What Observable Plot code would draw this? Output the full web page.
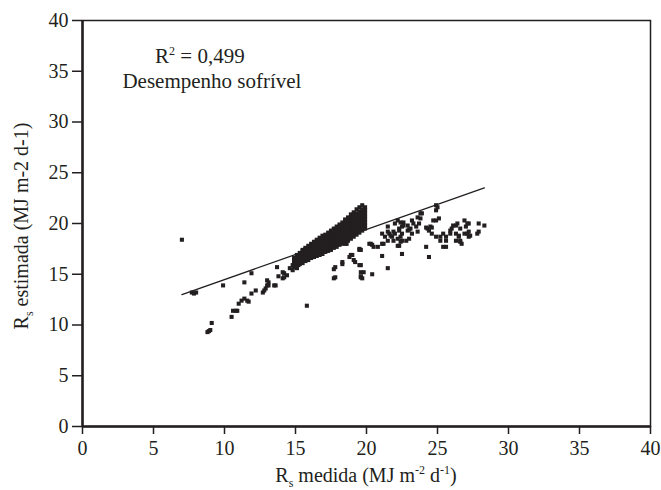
<!DOCTYPE html>
<html><head><meta charset="utf-8">
<script src="https://cdn.jsdelivr.net/npm/d3@7"></script>
<script src="https://cdn.jsdelivr.net/npm/@observablehq/plot@0.6"></script>
<style>body{margin:0;background:#fff} svg{display:block}</style>
</head><body><div id="chart"></div>
<script>
// Tick values
const xTicks = [0, 5, 10, 15, 20, 25, 30, 35, 40];
const yTicks = [0, 5, 10, 15, 20, 25, 30, 35, 40];

// Regression line endpoints
const lineX = [7.0, 28.3];
const lineY = [13.0, 23.5];

// Scattered points (Rs medida, Rs estimada)
const ptsX = [7.0, 7.7, 8.0, 7.85, 8.8, 9.0, 8.9, 9.1, 9.9, 10.5, 10.6, 10.8, 10.9, 11.4,
  11.0, 11.2, 11.6, 11.7, 11.4, 11.9, 11.9, 12.2, 12.7, 12.9, 13.0, 13.1, 12.8, 13.0, 13.1, 13.5, 13.6,
  13.7, 13.8, 14.1, 14.2, 14.1, 14.2, 14.4, 14.6, 14.8, 14.8, 14.9, 15.0, 15.1, 15.2, 15.0, 15.1, 15.2, 15.4,
  15.8, 17.7, 17.7, 17.8, 17.8,
  18.3, 18.3, 18.6, 18.5, 18.8, 18.9, 19.0, 19.1, 19.2, 19.5, 19.5, 19.6, 19.5, 19.6, 19.8, 19.6, 19.7, 19.6, 19.6,
  20.2, 20.3, 20.5, 20.4, 20.4, 20.8,
  21.1, 21.5, 21.1, 21.2, 21.5, 21.5, 21.6, 21.1, 21.3, 21.7, 21.8, 21.9, 21.5, 21.9,
  22.0, 22.2, 22.3, 22.4, 22.5, 22.3, 22.2, 22.5, 22.5, 22.6, 22.4, 22.6, 22.3, 22.0, 22.5, 22.2, 22.4, 22.8,
  22.9, 23.0, 23.2, 23.2, 22.9, 23.1, 23.3, 23.0,
  23.5, 23.7, 23.9, 23.8, 23.6, 23.8, 23.6,
  24.3, 24.5, 24.2, 24.4, 24.7, 24.2, 24.4, 24.6, 24.9, 25.1,
  25.0, 24.9, 24.9,
  24.6, 24.9, 25.2, 25.6, 25.6, 25.2, 25.4, 25.6, 25.4,
  25.9, 26.1, 26.3, 26.5, 26.3, 25.9, 26.0, 26.3,
  26.4, 26.6, 26.9, 27.0, 27.1, 27.2, 26.6, 26.7, 27.2, 26.9, 27.1, 27.2, 26.6, 27.3, 26.5,
  27.9, 28.3, 27.9, 27.8];
const ptsY = [18.4, 13.2, 13.2, 13.1, 9.3, 9.5, 9.4, 10.2, 13.9, 10.8, 11.4, 11.4, 11.4, 14.2,
  12.1, 12.4, 12.4, 12.3, 12.6, 13.1, 15.1, 13.4, 13.2, 13.6, 13.9, 14.2, 13.4, 14.4, 13.9, 13.9, 13.9,
  15.7, 14.8, 14.6, 15.1, 15.2, 14.7, 14.9, 15.6, 15.9, 15.4, 16.4, 16.0, 15.6, 15.9, 16.4, 15.7, 16.5, 16.5,
  11.9, 15.5, 14.6, 15.7, 14.7,
  16.0, 16.2, 18.0, 18.0, 16.7, 16.9, 16.9, 16.4, 16.2, 17.5, 17.4, 15.9, 15.9, 15.2, 15.2, 14.7, 14.6, 14.8, 17.4,
  18.0, 18.0, 17.7, 15.0, 17.9, 17.7,
  16.8, 15.6, 18.0, 18.0, 19.7, 19.2, 19.0, 19.0, 18.7, 18.8, 18.7, 19.2, 18.3, 18.3,
  20.0, 20.3, 19.5, 18.7, 18.3, 17.8, 17.8, 17.0, 19.7, 20.1, 20.1, 19.8, 19.3, 19.0, 19.0, 18.5, 18.2, 18.3,
  19.8, 19.4, 20.3, 19.0, 19.3, 19.5, 20.0, 18.5,
  19.7, 20.0, 21.0, 20.5, 19.2, 21.0, 20.6,
  19.5, 19.7, 17.7, 16.7, 20.3, 19.6, 19.3, 19.6, 20.3, 20.5,
  21.6, 21.3, 21.8,
  19.0, 18.7, 18.3, 18.7, 17.7, 18.7, 19.0, 18.3, 17.7,
  19.3, 19.8, 19.0, 18.7, 18.3, 19.0, 19.5, 19.8,
  20.0, 19.5, 20.3, 19.7, 19.0, 18.7, 18.2, 18.0, 20.0, 19.0, 20.0, 19.2, 18.3, 18.8, 18.8,
  20.0, 19.8, 19.2, 19.0];

// Dense band: columns of Rs medida, with the Rs estimada values read in each column
const bandX = [14.9, 15.1, 15.3, 15.5, 15.7, 15.9, 16.1, 16.3, 16.5, 16.7, 16.9, 17.1, 17.3,
  17.5, 17.7, 17.9, 18.1, 18.3, 18.5, 18.7, 18.9, 19.1, 19.3, 19.5, 19.7, 19.9];
const bandY = [
  [15.7, 16.0, 16.3, 16.6],
  [15.9, 16.2, 16.5, 16.8, 16.9],
  [16.0, 16.3, 16.6, 16.9, 17.1],
  [16.1, 16.4, 16.7, 17.0, 17.3, 17.4],
  [16.3, 16.6, 16.9, 17.2, 17.5, 17.6],
  [16.4, 16.7, 17.0, 17.3, 17.6, 17.8],
  [16.6, 16.9, 17.2, 17.5, 17.8, 18.0],
  [16.7, 17.0, 17.3, 17.6, 17.9, 18.2],
  [16.8, 17.1, 17.4, 17.7, 18.0, 18.3, 18.4],
  [16.9, 17.2, 17.5, 17.8, 18.1, 18.4, 18.6],
  [17.0, 17.3, 17.6, 17.9, 18.2, 18.5, 18.8],
  [17.2, 17.5, 17.8, 18.1, 18.4, 18.7, 18.9],
  [17.3, 17.6, 17.9, 18.2, 18.5, 18.8, 19.1],
  [17.4, 17.7, 18.0, 18.3, 18.6, 18.9, 19.2, 19.3],
  [17.6, 17.9, 18.2, 18.5, 18.8, 19.1, 19.4, 19.5],
  [17.7, 18.0, 18.3, 18.6, 18.9, 19.2, 19.5, 19.7],
  [17.9, 18.2, 18.5, 18.8, 19.1, 19.4, 19.7, 19.9],
  [18.0, 18.3, 18.6, 18.9, 19.2, 19.5, 19.8, 20.1],
  [18.2, 18.5, 18.8, 19.1, 19.4, 19.7, 20.0, 20.3, 20.4],
  [18.3, 18.6, 18.9, 19.2, 19.5, 19.8, 20.1, 20.4, 20.6],
  [18.5, 18.8, 19.1, 19.4, 19.7, 20.0, 20.3, 20.6, 20.9],
  [18.7, 19.0, 19.3, 19.6, 19.9, 20.2, 20.5, 20.8, 21.1],
  [18.9, 19.2, 19.5, 19.8, 20.1, 20.4, 20.7, 21.0, 21.4],
  [19.1, 19.4, 19.7, 20.0, 20.3, 20.6, 20.9, 21.2, 21.6],
  [19.3, 19.6, 19.9, 20.2, 20.5, 20.8, 21.1, 21.4, 21.8],
  [19.5, 19.8, 20.1, 20.4, 20.7, 21.0, 21.3, 21.6]
];

const points = ptsX.map((x, i) => ({x, y: ptsY[i]}));
bandX.forEach((x, i) => bandY[i].forEach(y => points.push({x, y})));
const line = lineX.map((x, i) => ({x, y: lineY[i]}));

const ink = "#231f20";
const fam = "'Liberation Serif', 'Times New Roman', serif";
const plot = Plot.plot({
  width: 661, height: 490,
  marginLeft: 82, marginRight: 11, marginTop: 20, marginBottom: 64,
  style: {fontFamily: fam, fontSize: "20px", color: ink, background: "#fff"},
  x: {domain: [0, 40]},
  y: {domain: [0, 40]},
  marks: [
    Plot.frame({stroke: ink, strokeWidth: 1.5}),
    Plot.axisX({ticks: xTicks, tickSize: 8, tickPadding: 6, label: null, tickFormat: d => String(d), strokeWidth: 1.5, fontFamily: fam}),
    Plot.axisY({ticks: yTicks, tickSize: 10, tickPadding: 4, label: null, tickFormat: d => String(d), strokeWidth: 1.5, fontFamily: fam}),
    Plot.ruleX([0], {stroke: ink, strokeWidth: 2.5}),
    Plot.ruleY([0], {stroke: ink, strokeWidth: 2.5}),
    Plot.line(line, {x: "x", y: "y", stroke: ink, strokeWidth: 1.3}),
    Plot.dot(points, {x: "x", y: "y", symbol: "square", r: 2.3, fill: ink, stroke: "none"})
  ]
});
document.getElementById("chart").appendChild(plot);

const svg = d3.select(plot);
function addText(xp, yp, rotate, size, parts) {
  const t = svg.append("text")
    .attr("transform", `translate(${xp},${yp})` + (rotate ? " rotate(-90)" : ""))
    .attr("text-anchor", "middle").attr("fill", ink)
    .attr("font-family", fam).attr("font-size", size);
  let shift = 0;
  parts.forEach(([s, kind]) => {
    const sp = t.append("tspan").text(s);
    const target = kind === "sub" ? 5 : kind === "sup" ? -8 : 0;
    sp.attr("dy", target - shift);
    if (kind) sp.attr("font-size", 12);
    shift = target;
  });
  return t;
}
const xs = plot.scale("x"), ys = plot.scale("y");
addText(xs.apply(8.3), ys.apply(35.8), false, 21, [["R"], ["2", "sup"], [" = 0,499"]]);
addText(xs.apply(9.15), ys.apply(33.3), false, 21, [["Desempenho sofrível"]]);
addText(366, 482, false, 20, [["R"], ["s", "sub"], [" medida (MJ m"], ["-2", "sup"], [" d"], ["-1", "sup"], [")"]]);
addText(28, 226, true, 20, [["R"], ["s", "sub"], [" estimada (MJ m-2 d-1)"]]);
</script>
</body></html>
